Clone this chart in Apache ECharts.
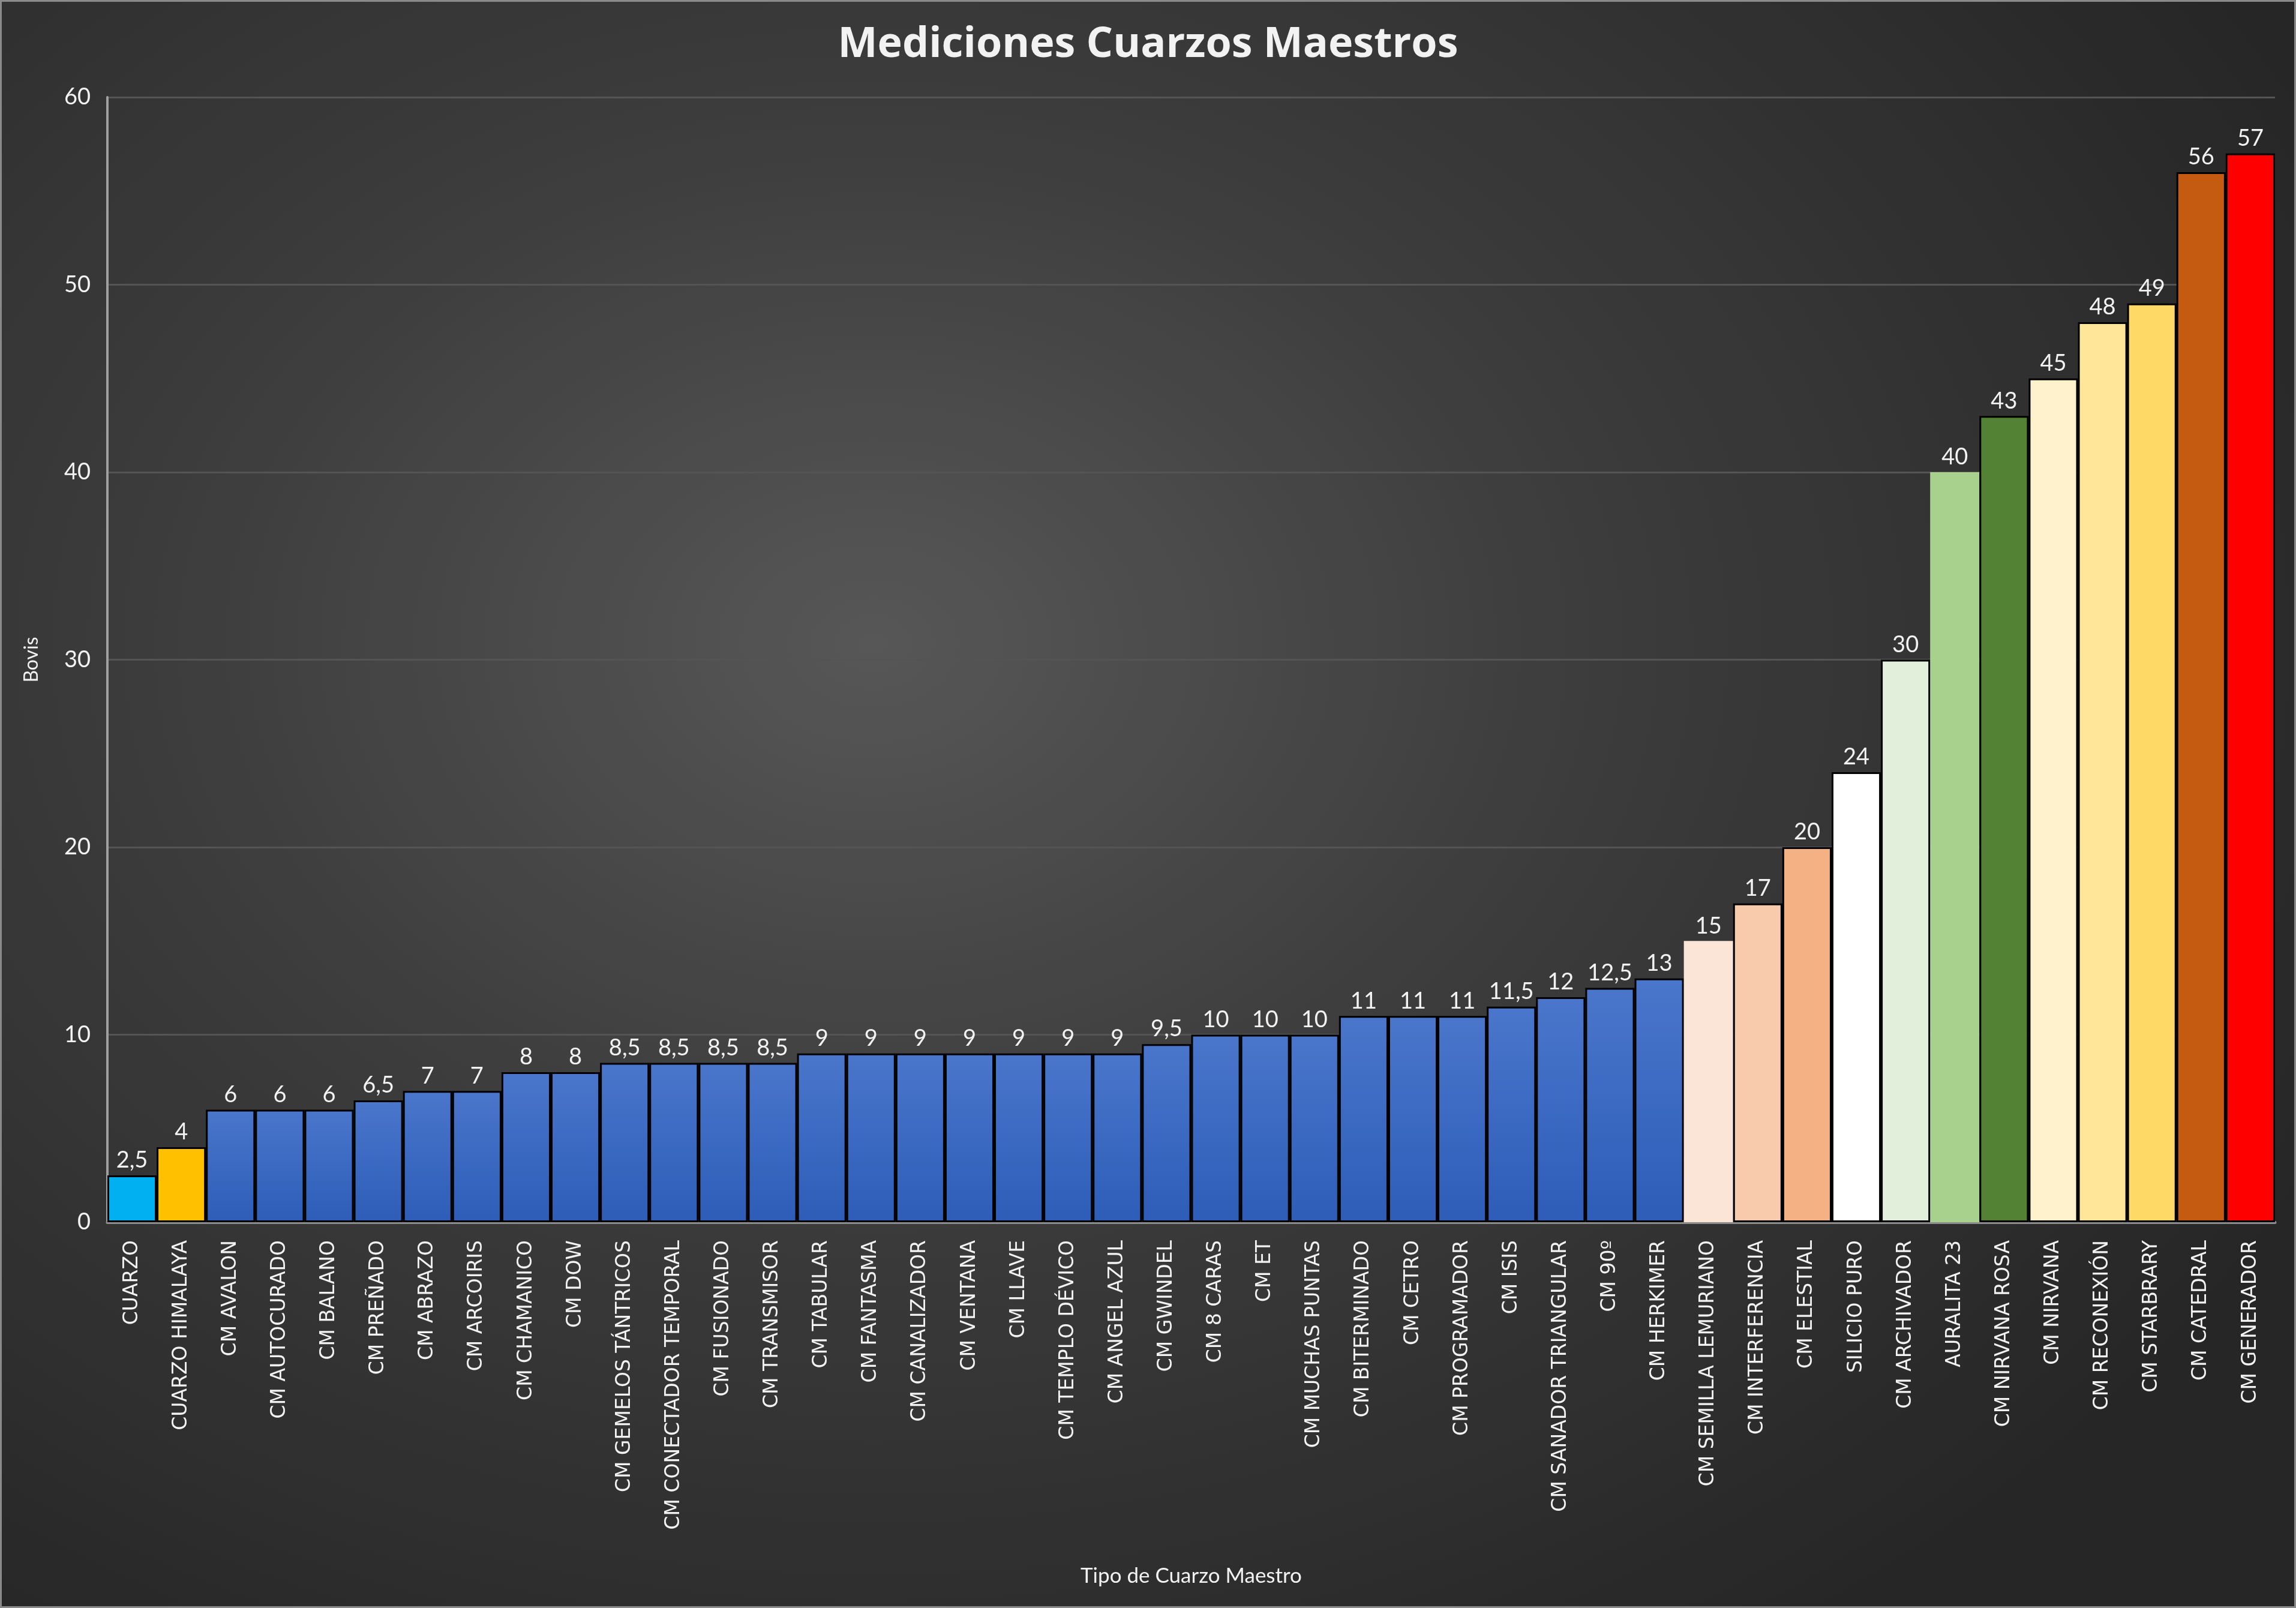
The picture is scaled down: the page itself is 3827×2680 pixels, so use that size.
<!DOCTYPE html>
<html>
<head>
<meta charset="utf-8">
<script src="https://cdn.jsdelivr.net/npm/echarts@6/dist/echarts.min.js"></script>
<style>
  html, body { margin: 0; padding: 0; }
  #chart {
    width: 3827px; height: 2680px; box-sizing: border-box;
    border: 3px solid #8a8a8a;
    background: radial-gradient(ellipse 70% 75% at 38% 40%, #575757 0%, #3c3c3c 45%, #262626 100%);
  }
</style>
</head>
<body>
<div id="chart"></div>
<script>
// categorias (tipo de cuarzo maestro)
var categorias = [
  'CUARZO', 'CUARZO HIMALAYA', 'CM AVALON', 'CM AUTOCURADO', 'CM BALANO', 'CM PREÑADO',
  'CM ABRAZO', 'CM ARCOIRIS', 'CM CHAMANICO', 'CM DOW', 'CM GEMELOS TÁNTRICOS',
  'CM CONECTADOR TEMPORAL', 'CM FUSIONADO', 'CM TRANSMISOR', 'CM TABULAR', 'CM FANTASMA',
  'CM CANALIZADOR', 'CM VENTANA', 'CM LLAVE', 'CM TEMPLO DÉVICO', 'CM ANGEL AZUL',
  'CM GWINDEL', 'CM 8 CARAS', 'CM ET', 'CM MUCHAS PUNTAS', 'CM BITERMINADO', 'CM CETRO',
  'CM PROGRAMADOR', 'CM ISIS', 'CM SANADOR TRIANGULAR', 'CM 90º', 'CM HERKIMER',
  'CM SEMILLA LEMURIANO', 'CM INTERFERENCIA', 'CM ELESTIAL', 'SILICIO PURO',
  'CM ARCHIVADOR', 'AURALITA 23', 'CM NIRVANA ROSA', 'CM NIRVANA', 'CM RECONEXIÓN',
  'CM STARBRARY', 'CM CATEDRAL', 'CM GENERADOR'
];
// mediciones en bovis
var bovis = [
  2.5, 4, 6, 6, 6, 6.5, 7, 7, 8, 8, 8.5, 8.5, 8.5, 8.5, 9, 9, 9, 9, 9, 9, 9, 9.5,
  10, 10, 10, 11, 11, 11, 11.5, 12, 12.5, 13, 15, 17, 20, 24, 30, 40, 43, 45, 48, 49, 56, 57
];
var ticksY = [0, 10, 20, 30, 40, 50, 60];

// colores especiales (el resto va en azul degradado)
var colorEspecial = {
  'CUARZO': '#00B0F0',
  'CUARZO HIMALAYA': '#FFC000',
  'CM SEMILLA LEMURIANO': '#FBE5D6',
  'CM INTERFERENCIA': '#F8CBAD',
  'CM ELESTIAL': '#F4B183',
  'SILICIO PURO': '#FFFFFF',
  'CM ARCHIVADOR': '#E2EFDA',
  'AURALITA 23': '#A9D18E',
  'CM NIRVANA ROSA': '#548235',
  'CM NIRVANA': '#FFF2CC',
  'CM RECONEXIÓN': '#FFE699',
  'CM STARBRARY': '#FFD966',
  'CM CATEDRAL': '#C55A11',
  'CM GENERADOR': '#FF0000'
};
var sinBorde = ['CM SEMILLA LEMURIANO', 'AURALITA 23'];

var azul = new echarts.graphic.LinearGradient(0, 0, 0, 1, [
  { offset: 0, color: '#4A76CB' },
  { offset: 1, color: '#2D5DB8' }
]);

var datos = [];
for (var i = 0; i < categorias.length; i++) {
  var c = categorias[i];
  datos.push({
    value: bovis[i],
    itemStyle: {
      color: colorEspecial[c] || azul,
      borderColor: '#000',
      borderWidth: sinBorde.indexOf(c) >= 0 ? 0 : 3
    }
  });
}

var chart = echarts.init(document.getElementById('chart'));
chart.setOption({
  backgroundColor: 'transparent',
  animation: false,
  title: {
    text: 'Mediciones Cuarzos Maestros',
    left: 'center',
    top: 32,
    textStyle: { color: '#f2f2f2', fontSize: 70, fontWeight: 'bold', fontFamily: 'Open Sans' }
  },
  grid: { left: 176, right: 32, top: 159, bottom: 640 },
  xAxis: {
    type: 'category',
    data: categorias,
    name: 'Tipo de Cuarzo Maestro',
    nameLocation: 'middle',
    nameGap: 572,
    nameTextStyle: { color: '#f2f2f2', fontSize: 35, fontFamily: 'Lato' },
    axisLine: { lineStyle: { color: '#8c8c8c', width: 5 } },
    axisTick: { show: false },
    axisLabel: {
      interval: 0, rotate: 90, margin: 30,
      color: '#f2f2f2', fontSize: 33, fontFamily: 'DejaVu Sans'
    }
  },
  yAxis: {
    type: 'value',
    min: ticksY[0], max: ticksY[ticksY.length - 1], interval: 10,
    name: 'Bovis',
    nameLocation: 'middle',
    nameGap: 110,
    nameRotate: 90,
    nameTextStyle: { color: '#f2f2f2', fontSize: 32, fontFamily: 'Lato' },
    axisLine: { show: true, lineStyle: { color: '#a0a0a0', width: 4 } },
    axisTick: { show: false },
    axisLabel: { color: '#f2f2f2', fontSize: 38, fontFamily: 'Lato', margin: 28 },
    splitLine: { lineStyle: { color: '#545454', width: 3 } }
  },
  series: [{
    type: 'bar',
    data: datos,
    barCategoryGap: '0%',
    label: {
      show: true, position: 'top', distance: 6,
      color: '#f2f2f2', fontSize: 38, fontFamily: 'Lato',
      formatter: function (p) { return String(p.value).replace('.', ','); }
    }
  }]
});
</script>
</body>
</html>
